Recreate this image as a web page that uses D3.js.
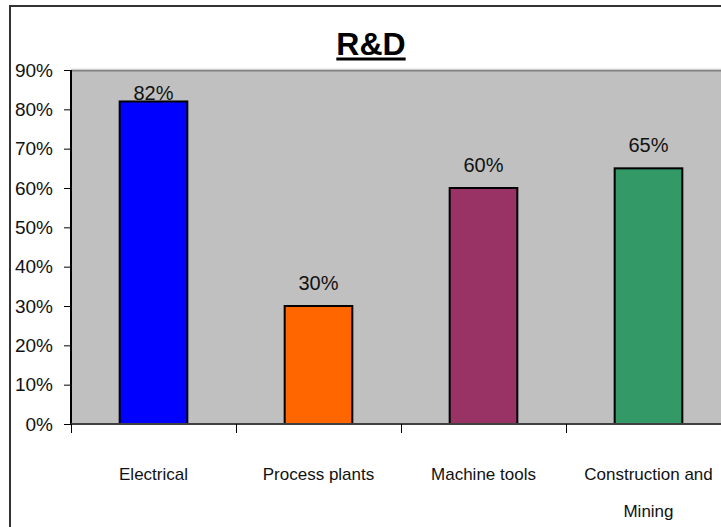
<!DOCTYPE html>
<html>
<head>
<meta charset="utf-8">
<script src="https://cdn.jsdelivr.net/npm/d3@7"></script>
<style>
  html, body { margin: 0; padding: 0; background: #ffffff; }
  svg { display: block; font-family: "Liberation Sans", Arial, sans-serif; }
</style>
</head>
<body>
<svg id="chart" width="721" height="527"></svg>
<script>
// R&D share by sector
const categories = ["Electrical", "Process plants", "Machine tools", "Construction and Mining"];
const values = [0.82, 0.30, 0.60, 0.65];
const barColors = ["#0000ff", "#ff6600", "#993366", "#339966"];
const yTicks = [0, 0.1, 0.2, 0.3, 0.4, 0.5, 0.6, 0.7, 0.8, 0.9];
const title = "R&D";

const svg = d3.select("#chart");
const W = 721, H = 527;

// plot rectangle (continues past the right edge of the canvas)
const plot = { left: 71, top: 70, right: 731, bottom: 424 };

svg.append("rect").attr("width", W).attr("height", H).attr("fill", "#ffffff");

// outer chart frame
svg.append("rect")
  .attr("x", 10).attr("y", 6)
  .attr("width", W + 20).attr("height", H + 20)
  .attr("fill", "none").attr("stroke", "#333333").attr("stroke-width", 2);

const x = d3.scaleBand()
  .domain(categories)
  .range([plot.left, plot.right])
  .paddingInner(0.59)
  .paddingOuter(0.295);

const y = d3.scaleLinear()
  .domain([0, 0.9])
  .range([plot.bottom, plot.top]);

// plot area background
svg.append("rect")
  .attr("x", plot.left).attr("y", plot.top)
  .attr("width", plot.right - plot.left).attr("height", plot.bottom - plot.top)
  .attr("fill", "#c0c0c0");
svg.append("line")
  .attr("x1", plot.left).attr("x2", plot.right)
  .attr("y1", plot.top + 0.5).attr("y2", plot.top + 0.5)
  .attr("stroke", "#808080").attr("stroke-width", 2);
svg.append("line")
  .attr("x1", plot.left).attr("x2", plot.right)
  .attr("y1", plot.top - 1).attr("y2", plot.top - 1)
  .attr("stroke", "#e0e0e0").attr("stroke-width", 1);

// bars
svg.append("g").selectAll("rect")
  .data(categories)
  .join("rect")
  .attr("x", d => x(d))
  .attr("y", (d, i) => y(values[i]))
  .attr("width", x.bandwidth())
  .attr("height", (d, i) => y(0) - y(values[i]))
  .attr("fill", (d, i) => barColors[i])
  .attr("stroke", "#000000")
  .attr("stroke-width", 2);

// value labels above bars, kept inside the plot area
svg.append("g").selectAll("text")
  .data(categories)
  .join("text")
  .attr("x", d => x(d) + x.bandwidth() / 2)
  .attr("y", (d, i) => Math.max(y(values[i]) - 16, plot.top + 30))
  .attr("text-anchor", "middle")
  .attr("font-size", 20)
  .attr("fill", "#111111")
  .text((d, i) => d3.format(".0%")(values[i]));

// y axis
const yAxis = svg.append("g")
  .attr("transform", `translate(${plot.left},0)`)
  .call(d3.axisLeft(y).tickValues(yTicks).tickFormat(d3.format(".0%")).tickSize(7).tickPadding(11));
yAxis.select(".domain").attr("stroke", "#000000").attr("stroke-width", 2)
  .attr("d", `M0,${plot.top}V${plot.bottom + 1}`);
yAxis.selectAll(".tick line").attr("stroke", "#000000").attr("stroke-width", 1);
yAxis.selectAll(".tick text")
  .attr("font-size", 19).attr("fill", "#111111")
  .attr("font-family", "'Liberation Sans', Arial, sans-serif");

// x axis line and category ticks
const step = x.step();
const tickXs = d3.range(categories.length + 1).map(i => plot.left + i * step);
svg.append("line")
  .attr("x1", plot.left).attr("x2", plot.right)
  .attr("y1", plot.bottom).attr("y2", plot.bottom)
  .attr("stroke", "#404040").attr("stroke-width", 2);
svg.append("g").selectAll("line")
  .data(tickXs)
  .join("line")
  .attr("x1", d => d + 0.5).attr("x2", d => d + 0.5)
  .attr("y1", plot.bottom).attr("y2", plot.bottom + 9)
  .attr("stroke", "#000000").attr("stroke-width", 1);

// category labels, wrapped to the category width
const catG = svg.append("g");
categories.forEach((c, i) => {
  const t = catG.append("text")
    .attr("text-anchor", "middle")
    .attr("font-size", 17)
    .attr("fill", "#111111");
  const cx = x(c) + x.bandwidth() / 2;
  const words = c.split(" ");
  const lines = [];
  let line = [];
  const probe = t.append("tspan");
  words.forEach(w => {
    const trial = line.concat(w).join(" ");
    probe.text(trial);
    if (probe.node().getComputedTextLength() > step - 20 && line.length) {
      lines.push(line.join(" "));
      line = [w];
    } else {
      line.push(w);
    }
  });
  lines.push(line.join(" "));
  probe.remove();
  lines.forEach((l, k) => {
    t.append("tspan").attr("x", cx).attr("y", 480 + k * 37).text(l);
  });
});

// title with underline
const titleText = svg.append("text")
  .attr("x", 371).attr("y", 55)
  .attr("text-anchor", "middle")
  .attr("font-size", 32).attr("font-weight", "bold")
  .attr("fill", "#000000")
  .text(title);
const tw = titleText.node().getComputedTextLength();
svg.append("rect")
  .attr("x", 371 - tw / 2).attr("y", 57.5)
  .attr("width", tw).attr("height", 3)
  .attr("fill", "#000000");
</script>
</body>
</html>
